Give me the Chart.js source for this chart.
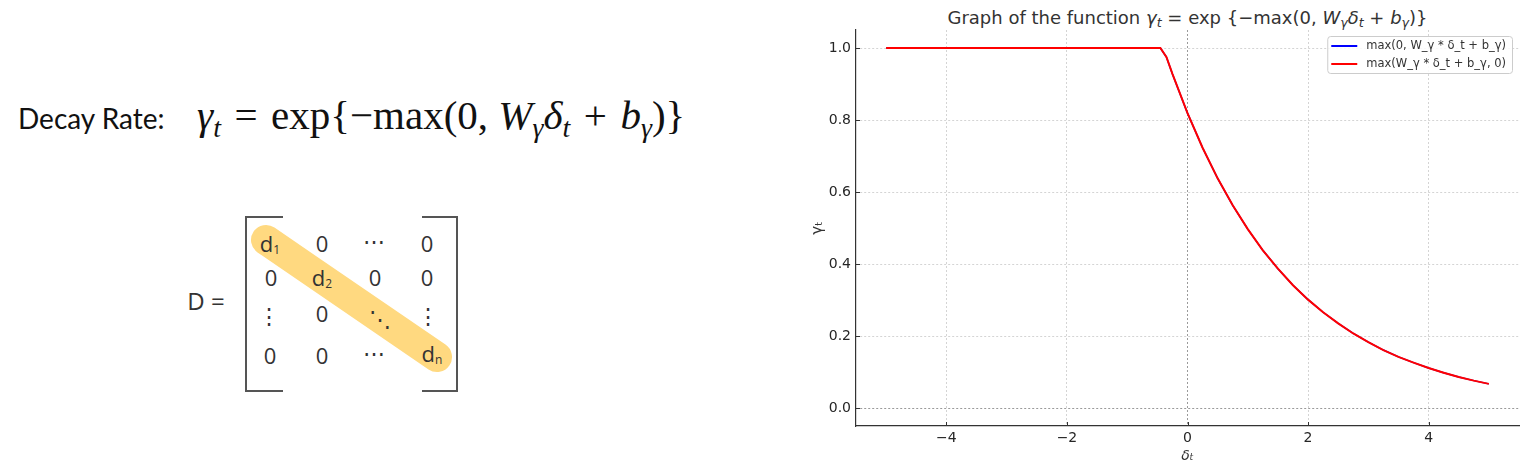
<!DOCTYPE html>
<html>
<head>
<meta charset="utf-8">
<script src="https://cdn.jsdelivr.net/npm/chart.js@4"></script>
<style>
  html, body { margin: 0; padding: 0; background: #fff; }
  #page { position: relative; width: 1527px; height: 472px; overflow: hidden; }
  #decay { position: absolute; left: 18px; top: 101px; font: 28px Lato, sans-serif; color: #111; }
  #formula { position: absolute; left: 197px; top: 91px; font: 41px "Liberation Serif", serif; color: #111; white-space: nowrap; }
  #formula sub { font-size: 68%; vertical-align: -0.3em; line-height: 0; }
  #formula .op { margin: 0 0.08em; }
  #title { position: absolute; left: 856px; width: 663px; top: 7px; text-align: center;
           font: 18px "DejaVu Sans", sans-serif; color: #333; white-space: nowrap; }
  #title sub { font-size: 70%; vertical-align: -0.25em; line-height: 0; }
  #title i { font-style: oblique; }
  #wrap { position: absolute; left: 780px; top: 0; width: 747px; height: 472px; }
</style>
</head>
<body>
<div id="page">
  <div id="decay">Decay Rate:</div>
  <div id="formula"><i>γ</i><sub><i>t</i></sub><span class="op"> = </span>exp{−max(0, <i>W</i><sub><i>γ</i></sub><i>δ</i><sub><i>t</i></sub><span class="op"> + </span><i>b</i><sub><i>γ</i></sub>)}</div>

  <svg width="780" height="472" style="position:absolute;left:0;top:0">
    <line x1="266" y1="240" x2="437" y2="357" stroke="#FFD980" stroke-width="30" stroke-linecap="round"/>
    <path d="M283 217 H246 V391 H283" fill="none" stroke="#555" stroke-width="2"/>
    <path d="M422 217 H457 V391 H422" fill="none" stroke="#555" stroke-width="2"/>
    <g font-family="Open Sans, sans-serif" font-size="22" fill="#333" text-anchor="middle" dominant-baseline="central">
      <text x="206" y="300" font-size="24">D =</text>
      <text x="270" y="243">d<tspan font-size="12" dy="6">1</tspan></text>
      <text x="322" y="243">0</text>
      <text x="374" y="240">⋯</text>
      <text x="427" y="243">0</text>
      <text x="271" y="277">0</text>
      <text x="322" y="277">d<tspan font-size="12" dy="6">2</tspan></text>
      <text x="375" y="277">0</text>
      <text x="427" y="277">0</text>
      <text x="269" y="315">⋮</text>
      <text x="322" y="313">0</text>
      <text x="380" y="318">⋱</text>
      <text x="428" y="315">⋮</text>
      <text x="270" y="355">0</text>
      <text x="322" y="355">0</text>
      <text x="374" y="352">⋯</text>
      <text x="432" y="353">d<tspan font-size="12" dy="6">n</tspan></text>
    </g>
  </svg>

  <div id="title">Graph of the function <i>γ</i><sub><i>t</i></sub> = exp {−max(0, <i>W</i><sub><i>γ</i></sub><i>δ</i><sub><i>t</i></sub> + <i>b</i><sub><i>γ</i></sub>)}</div>
  <div id="wrap"><canvas id="c" width="747" height="472"></canvas></div>
</div>

<script>
// delta_t positions and gamma_t values
const deltaT = [-5, -0.45, -0.35, -0.25, 0, 0.25, 0.5, 0.75, 1, 1.25, 1.5, 1.75, 2, 2.25, 2.5,
                2.75, 3, 3.25, 3.5, 3.75, 4, 4.25, 4.5, 4.75, 5];
const gammaBlue = [1, 1, 0.975, 0.928, 0.819, 0.723, 0.638, 0.563, 0.497, 0.438, 0.387, 0.341, 0.301,
                   0.266, 0.235, 0.207, 0.183, 0.161, 0.142, 0.126, 0.111, 0.098, 0.086, 0.076, 0.067];
const gammaRed = [1, 1, 0.975, 0.928, 0.819, 0.723, 0.638, 0.563, 0.497, 0.438, 0.387, 0.341, 0.301,
                  0.266, 0.235, 0.207, 0.183, 0.161, 0.142, 0.126, 0.111, 0.098, 0.086, 0.076, 0.067];
const seriesLabels = ['max(0, W_γ * δ_t + b_γ)', 'max(W_γ * δ_t + b_γ, 0)'];
const seriesColors = ['#0000ff', '#ff0000'];

const toPoints = ys => deltaT.map((x, i) => ({ x: x, y: ys[i] }));
const minus = v => (v < 0 ? '\u2212' + Math.abs(v) : String(v));

// legend drawn inside the plot, top right, with a light box
const insideLegend = {
  id: 'insideLegend',
  afterDraw(chart) {
    const { ctx, chartArea } = chart;
    const sets = chart.data.datasets;
    ctx.save();
    ctx.font = '11.5px "DejaVu Sans"';
    const textW = Math.max(...sets.map(d => ctx.measureText(d.label).width));
    const w = textW + 45;
    const rowH = 18;
    const h = sets.length * rowH + 1;
    const x = chartArea.right - w - 7;
    const y = chartArea.top + 6;
    ctx.fillStyle = 'rgba(255,255,255,0.85)';
    ctx.strokeStyle = '#cccccc';
    ctx.lineWidth = 1;
    ctx.beginPath();
    if (ctx.roundRect) ctx.roundRect(x + 0.5, y + 0.5, w, h, 3); else ctx.rect(x + 0.5, y + 0.5, w, h);
    ctx.fill();
    ctx.stroke();
    sets.forEach((d, i) => {
      const cy = y + 10 + rowH * i;
      ctx.strokeStyle = d.borderColor;
      ctx.lineWidth = 2;
      ctx.beginPath();
      ctx.moveTo(x + 4, cy);
      ctx.lineTo(x + 30, cy);
      ctx.stroke();
      ctx.fillStyle = '#333';
      ctx.textBaseline = 'middle';
      ctx.fillText(d.label, x + 39, cy);
    });
    ctx.restore();
  }
};

// short tick marks pointing into the plot, like the original
const innerTicks = {
  id: 'innerTicks',
  afterDatasetsDraw(chart) {
    const { ctx, chartArea, scales } = chart;
    ctx.save();
    ctx.strokeStyle = '#333';
    ctx.lineWidth = 1;
    ctx.beginPath();
    scales.x.ticks.forEach(t => {
      const px = Math.round(scales.x.getPixelForValue(t.value)) + 0.5;
      ctx.moveTo(px, chartArea.bottom);
      ctx.lineTo(px, chartArea.bottom - 4);
    });
    scales.y.ticks.forEach(t => {
      const py = Math.round(scales.y.getPixelForValue(t.value)) + 0.5;
      ctx.moveTo(chartArea.left, py);
      ctx.lineTo(chartArea.left + 4, py);
    });
    ctx.stroke();
    ctx.restore();
  }
};

const gridColor = ctx => (Math.abs(ctx.tick ? ctx.tick.value : 1) < 1e-9 ? '#9a9a9a' : '#d4d4d4');

new Chart(document.getElementById('c'), {
  type: 'line',
  data: {
    datasets: [
      { label: seriesLabels[0], data: toPoints(gammaBlue), borderColor: seriesColors[0],
        borderWidth: 1.5, pointRadius: 0, fill: false, order: 1 },
      { label: seriesLabels[1], data: toPoints(gammaRed), borderColor: seriesColors[1],
        borderWidth: 2, pointRadius: 0, fill: false, order: 0 }
    ]
  },
  options: {
    responsive: false,
    animation: false,
    layout: { padding: { top: 30, right: 8, left: 0, bottom: 0 } },
    plugins: { legend: { display: false }, tooltip: { enabled: false }, title: { display: false } },
    scales: {
      x: {
        type: 'linear', min: -5.5, max: 5.5,
        afterFit(s) { s.height = 46; },
        ticks: { stepSize: 2, includeBounds: false, color: '#262626', padding: 4,
                 font: { family: 'DejaVu Sans', size: 14 }, maxRotation: 0,
                 callback: v => minus(v) },
        grid: { color: gridColor, lineWidth: 1, drawTicks: false },
        border: { display: true, color: '#333', width: 1.2, dash: [2, 2] },
        title: { display: true, text: 'δₜ', color: '#333', padding: { top: 0, bottom: 7 },
                 font: { family: 'DejaVu Sans', size: 14, style: 'italic' } }
      },
      y: {
        type: 'linear', min: -0.05, max: 1.05,
        afterFit(s) { s.width = 76; },
        ticks: { stepSize: 0.2, includeBounds: false, color: '#262626', padding: 5,
                 font: { family: 'DejaVu Sans', size: 14 },
                 callback: v => v.toFixed(1) },
        grid: { color: gridColor, lineWidth: 1, drawTicks: false },
        border: { display: true, color: '#333', width: 1.2, dash: [2, 2] },
        title: { display: true, text: 'γₜ', color: '#333', padding: { top: 29, bottom: 0 },
                 font: { family: 'DejaVu Sans', size: 15 } }
      }
    }
  },
  plugins: [innerTicks, insideLegend]
});
</script>
</body>
</html>
